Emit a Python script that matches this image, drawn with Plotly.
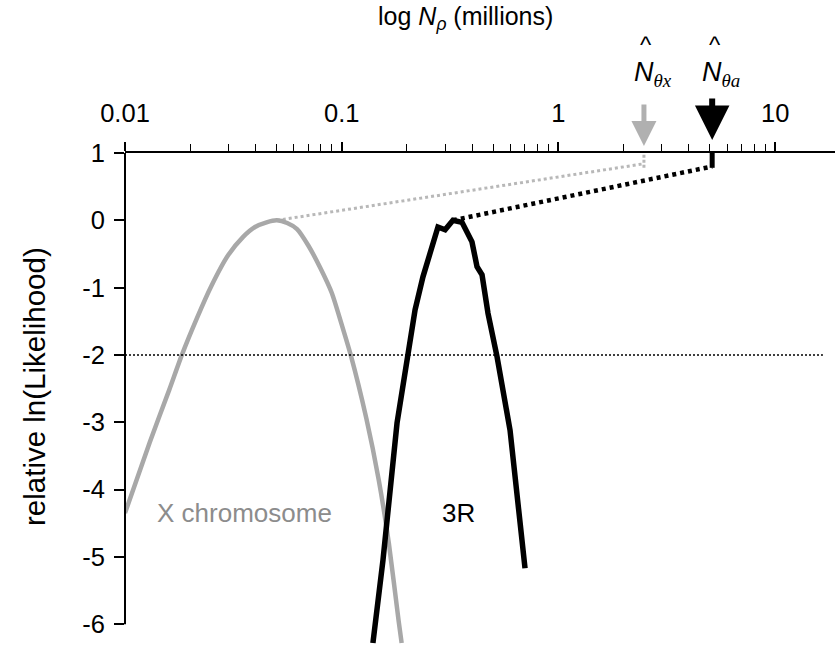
import math
import plotly.graph_objects as go

# ---- data (N in millions, relative ln likelihood) ----
x_chrom_N = [0.0100, 0.0130, 0.0160, 0.0183, 0.0215, 0.0250, 0.0299, 0.0350, 0.0398,
             0.0450, 0.0502, 0.0560, 0.0622, 0.0700, 0.0800, 0.0900, 0.1000, 0.1100,
             0.1300, 0.1480, 0.1650, 0.1830, 0.1890]
x_chrom_L = [-4.35, -3.30, -2.52, -2.00, -1.45, -0.98, -0.52, -0.25, -0.10,
             -0.03, 0.00, -0.04, -0.13, -0.37, -0.72, -1.08, -1.55, -2.00,
             -2.95, -3.85, -4.80, -5.95, -6.28]

r3_N = [0.1393, 0.155, 0.180, 0.202, 0.218, 0.237, 0.278, 0.300, 0.326, 0.359,
        0.399, 0.421, 0.444, 0.473, 0.521, 0.598, 0.644, 0.701]
r3_L = [-6.28, -5.05, -3.01, -2.03, -1.33, -0.84, -0.10, -0.14, 0.00, -0.03,
        -0.32, -0.69, -0.81, -1.38, -2.03, -3.12, -4.01, -5.17]

N_theta_x = 2.48
N_theta_a = 5.12
peak_x = 0.0502
peak_3r = 0.326
connector_L = 0.80
cutoff_L = -2

x_ticks = [0.01, 0.1, 1, 10]
x_ticktext = ["0.01", "0.1", "1", "10"]
x_minor = [k * 10 ** e for e in (-2, -1, 0) for k in range(2, 10)]
y_ticks = [1, 0, -1, -2, -3, -4, -5, -6]

GRAY = "#a8a8a8"
FONT = "Liberation Sans, Arial, sans-serif"

fig = go.Figure()

# connectors (dotted) from peaks to theta-based estimates
fig.add_trace(go.Scatter(x=[peak_x, N_theta_x], y=[0, connector_L + 0.04], mode="lines",
                         line=dict(color="#b8b8b8", width=3, dash="3px,3px"),
                         hoverinfo="skip", showlegend=False))
fig.add_trace(go.Scatter(x=[N_theta_x, N_theta_x], y=[connector_L - 0.02, 1], mode="lines",
                         line=dict(color="#b8b8b8", width=3, dash="3px,2px"),
                         hoverinfo="skip", showlegend=False))
fig.add_trace(go.Scatter(x=[peak_3r, N_theta_a], y=[0, connector_L], mode="lines",
                         line=dict(color="black", width=4.5, dash="4px,4px"),
                         hoverinfo="skip", showlegend=False))
fig.add_trace(go.Scatter(x=[N_theta_a, N_theta_a], y=[connector_L - 0.02, 1], mode="lines",
                         line=dict(color="black", width=5),
                         hoverinfo="skip", showlegend=False))

# likelihood curves
fig.add_trace(go.Scatter(x=x_chrom_N, y=x_chrom_L, mode="lines",
                         line=dict(color=GRAY, width=4.5, shape="spline", smoothing=0.6),
                         showlegend=False))
fig.add_trace(go.Scatter(x=r3_N, y=r3_L, mode="lines",
                         line=dict(color="black", width=5.5), showlegend=False))

xmin, xmax = -2, 1.276
ymin, ymax = -6.31, 1

def xp(v):
    return (math.log10(v) - xmin) / (xmax - xmin)

shapes = [
    # left axis line from -6 to 1
    dict(type="line", xref="paper", yref="y", x0=0, x1=0, y0=-6, y1=1,
         line=dict(color="black", width=2)),
    # -2 cutoff dotted line
    dict(type="line", xref="paper", yref="y", x0=0, x1=0.983, y0=cutoff_L, y1=cutoff_L,
         line=dict(color="black", width=1.5, dash="2px,2px")),
]

annotations = [
    dict(text="log <i>N<sub>ρ</sub></i> (millions)", xref="paper", yref="paper",
         x=(465 - 125) / 710, y=(645 - 18) / 492, showarrow=False,
         font=dict(family=FONT, size=25, color="black"), xanchor="center", yanchor="middle"),
    dict(text="relative ln(Likelihood)", xref="paper", yref="paper",
         x=(34 - 125) / 710, y=(645 - 387) / 492, showarrow=False, textangle=-90,
         font=dict(family=FONT, size=29.5, color="black"), xanchor="center", yanchor="middle"),
    dict(text="X chromosome", xref="paper", yref="y", x=(155 - 125) / 710, y=-4.35,
         showarrow=False, xanchor="left", yanchor="middle",
         font=dict(family=FONT, size=26, color="#8c8c8c")),
    dict(text="3R", xref="paper", yref="y", x=(458 - 125) / 710, y=-4.35,
         showarrow=False, xanchor="center", yanchor="middle",
         font=dict(family=FONT, size=26, color="black")),
    # arrows
    dict(x=xp(N_theta_x), y=(645 - 146) / 492, xref="paper", yref="paper",
         ax=0, ay=-43, axref="pixel", ayref="pixel", text="", showarrow=True,
         arrowhead=2, arrowsize=1.0, arrowwidth=5, arrowcolor="#b0b0b0"),
    dict(x=xp(N_theta_a), y=(645 - 140) / 492, xref="paper", yref="paper",
         ax=0, ay=-43, axref="pixel", ayref="pixel", text="", showarrow=True,
         arrowhead=2, arrowsize=1.15, arrowwidth=6, arrowcolor="black"),
    # estimate labels
    dict(text="<i>N</i><sub><i><span style='font-family:Liberation Serif'>θx</span></i></sub>",
         xref="paper", yref="paper", x=(632 - 125) / 710, y=(645 - 74) / 492,
         showarrow=False, xanchor="left", yanchor="middle",
         font=dict(family=FONT, size=27, color="black")),
    dict(text="<i>N</i><sub><i><span style='font-family:Liberation Serif'>θa</span></i></sub>",
         xref="paper", yref="paper", x=(700 - 125) / 710, y=(645 - 74) / 492,
         showarrow=False, xanchor="left", yanchor="middle",
         font=dict(family=FONT, size=27, color="black")),
    dict(text="^", xref="paper", yref="paper", x=(646 - 125) / 710, y=(645 - 44) / 492,
         showarrow=False, xanchor="center", yanchor="middle",
         font=dict(family=FONT, size=24, color="black")),
    dict(text="^", xref="paper", yref="paper", x=(715 - 125) / 710, y=(645 - 44) / 492,
         showarrow=False, xanchor="center", yanchor="middle",
         font=dict(family=FONT, size=24, color="black")),
]

fig.update_layout(
    width=835, height=645,
    margin=dict(l=125, r=0, t=153, b=0),
    paper_bgcolor="white", plot_bgcolor="white",
    shapes=shapes, annotations=annotations,
    xaxis=dict(type="log", range=[xmin, xmax], side="top",
               showline=True, linecolor="black", linewidth=2,
               showgrid=False, zeroline=False,
               tickmode="array", tickvals=x_ticks, ticktext=x_ticktext,
               ticks="outside", ticklen=9, tickwidth=1.5, tickcolor="black",
               ticklabelstandoff=10,
               tickfont=dict(family=FONT, size=25.5, color="black"),
               minor=dict(tickmode="array", tickvals=x_minor, ticks="outside",
                          ticklen=7, tickwidth=1.2, tickcolor="black", showgrid=False)),
    yaxis=dict(range=[ymin, ymax], showline=False, showgrid=False, zeroline=False,
               tickmode="array", tickvals=y_ticks, ticktext=[str(v) for v in y_ticks],
               ticks="outside", ticklen=10, tickwidth=1.5, tickcolor="black",
               ticklabelstandoff=4,
               tickfont=dict(family=FONT, size=25.5, color="black")),
)

fig.write_html("out.html")
